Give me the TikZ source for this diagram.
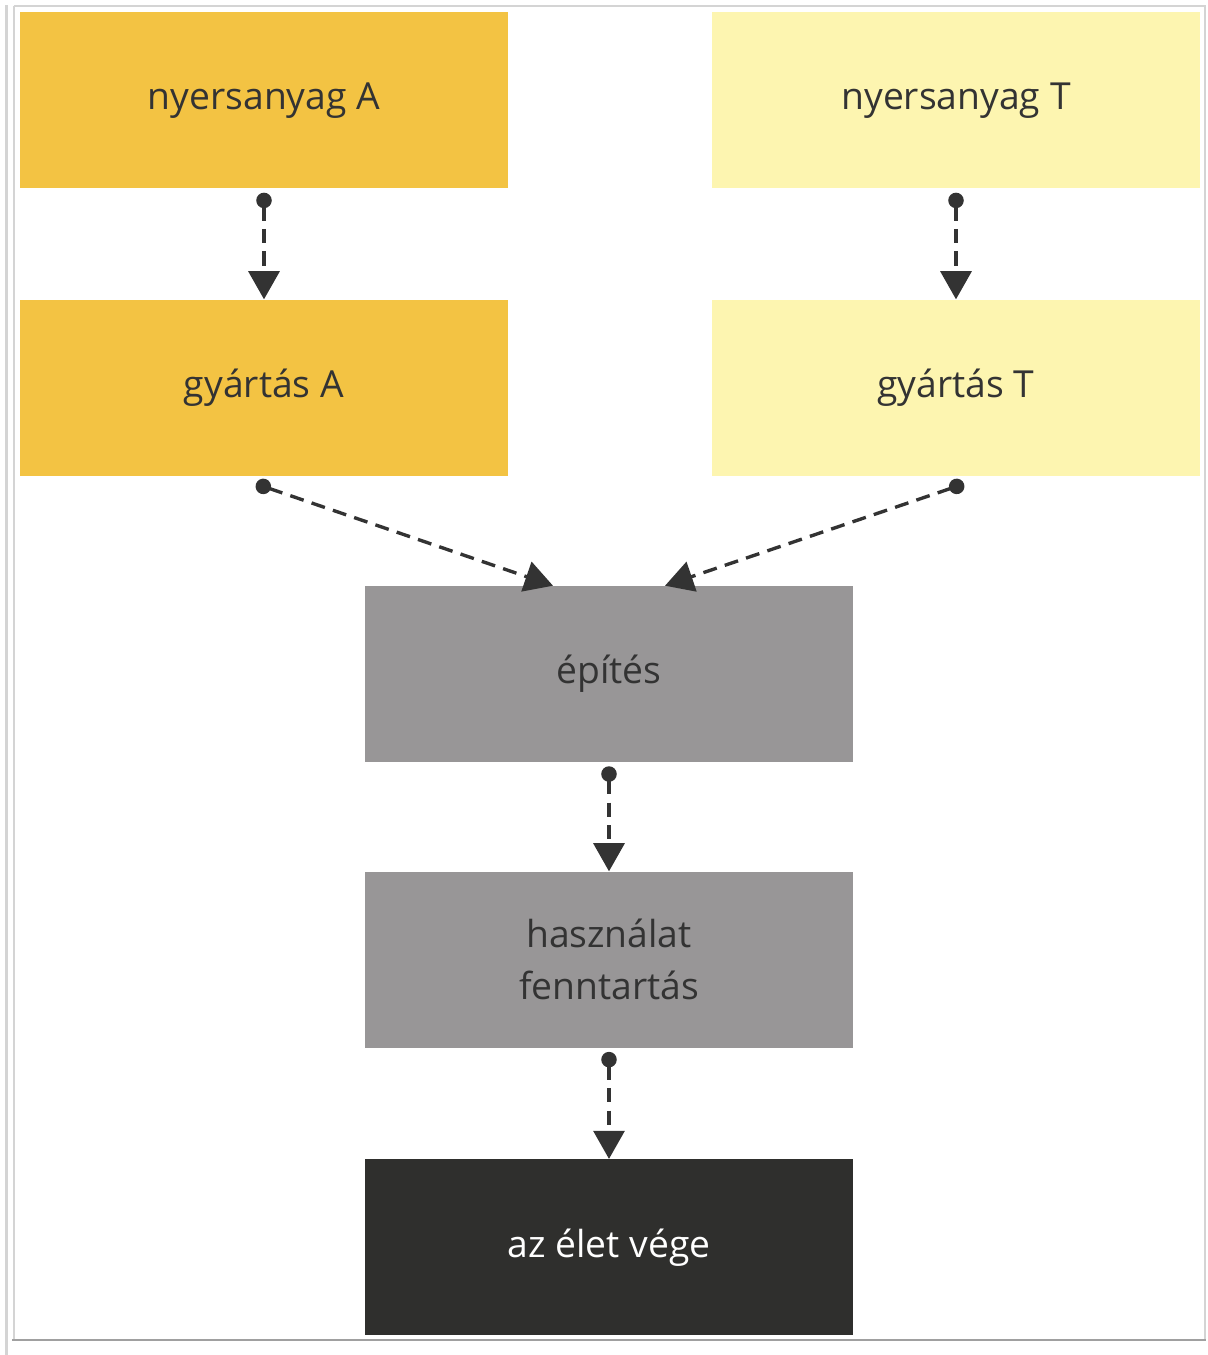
\documentclass[tikz,border=0pt]{standalone}
\usepackage{fontspec}
\setmainfont{Open Sans}
\usetikzlibrary{arrows.meta}
\definecolor{rawA}{HTML}{F3C343}
\definecolor{rawT}{HTML}{FDF5B0}
\definecolor{build}{HTML}{989697}
\definecolor{eol}{HTML}{2F2F2D}
\definecolor{ink}{HTML}{333333}
\definecolor{frameL}{HTML}{D4D4D4}
\definecolor{frameD}{HTML}{A0A0A0}
\newcommand{\lbl}{\fontsize{26.5}{37}\selectfont}
\tikzset{rawA/.style={text=ink,fill=rawA,rectangle,font=\lbl,minimum width=12.2cm,minimum height=4.4cm}}
\tikzset{rawT/.style={text=ink,fill=rawT,rectangle,font=\lbl,minimum width=12.2cm,minimum height=4.4cm}}
\tikzset{build/.style={text=ink,fill=build,rectangle,font=\lbl,minimum width=12.2cm,minimum height=4.4cm,align=center}}
\tikzset{eol/.style={text=white,fill=eol,rectangle,font=\lbl,minimum width=12.2cm,minimum height=4.4cm}}
\tikzset{flow/.style={ink,line width=2.4pt,dash pattern=on 10pt off 6pt,{Circle[length=11pt]}-{Triangle[length=20pt,width=22pt]}}}

\begin{document}
\begin{tikzpicture}
    \useasboundingbox (0,0) rectangle (30.2,-33.875);
    % frame
    \draw[frameL,line width=2.2pt] (0.1625,-0.125) -- (0.1625,-33.875);
    \draw[frameL,line width=1.4pt] (0.34,-0.15) -- (30.125,-0.15) -- (30.125,-33.5);
    \draw[frameL,line width=1.4pt] (0.34,-0.15) -- (0.34,-33.5);
    \draw[frameD,line width=2pt] (0.3,-33.5) -- (30.15,-33.5);

    \node[rawA] (nyA) at (6.6,-2.51) {nyersanyag A};
    \node[rawT] (nyT) at (23.9,-2.51) {nyersanyag T};

    \node[rawA] (gyA) at (6.6,-9.69) {gyártás A};
    \node[rawT] (gyT) at (23.9,-9.69) {gyártás T};

    \node[build] (ep) at (15.225,-16.85) {építés};
    \node[build] (hasz) at (15.225,-23.99) {használat\\fenntartás};

    \node[eol] (vege) at (15.225,-31.18) {az élet vége};

    \draw[flow] ([yshift=-0.1cm]nyA.south) -- (nyA.south |- gyA.north);
    \draw[flow] ([yshift=-0.1cm]nyT.south) -- (nyT.south |- gyT.north);
    \draw[flow] ([xshift=-0.2cm,yshift=-0.2cm]gyA.south) -- ([xshift=-1.4cm]ep.north);
    \draw[flow] ([xshift=0.2cm,yshift=-0.2cm]gyT.south) -- ([xshift=1.4cm]ep.north);
    \draw[flow] ([yshift=-0.1cm]ep.south) -- (hasz.north);
    \draw[flow] ([yshift=-0.1cm]hasz.south) -- (vege.north);

  \end{tikzpicture}
\end{document}
